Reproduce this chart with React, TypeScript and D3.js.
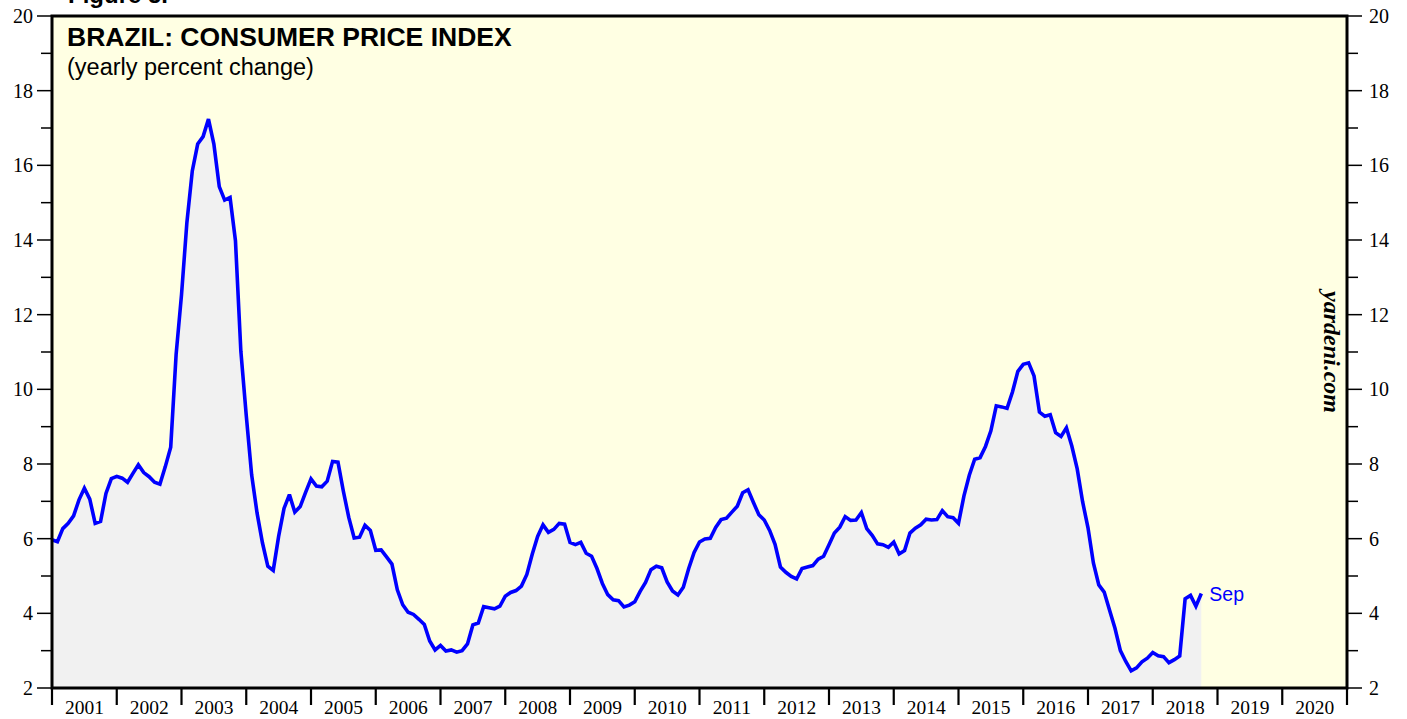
import React from "react";
import * as d3 from "d3";

// Brazil CPI, yearly percent change, monthly Dec 2000 .. Sep 2018
const startYear = 2000;
const startMonth = 11; // December (0-based)
const cpi: number[] = [
  5.97,
  // 2001
  5.92, 6.27, 6.41, 6.61, 7.04, 7.35, 7.06, 6.41, 6.46, 7.21, 7.61, 7.67,
  // 2002
  7.62, 7.51, 7.75, 7.98, 7.77, 7.66, 7.51, 7.46, 7.93, 8.45, 10.93, 12.53,
  // 2003
  14.47, 15.85, 16.57, 16.77, 17.24, 16.57, 15.43, 15.07, 15.14, 13.98, 11.02, 9.3,
  // 2004
  7.71, 6.69, 5.89, 5.26, 5.15, 6.06, 6.81, 7.18, 6.71, 6.86, 7.24, 7.6,
  // 2005
  7.41, 7.39, 7.54, 8.07, 8.05, 7.27, 6.57, 6.02, 6.04, 6.36, 6.22, 5.69,
  // 2006
  5.7, 5.51, 5.32, 4.63, 4.23, 4.03, 3.97, 3.84, 3.7, 3.26, 3.02, 3.14,
  // 2007
  2.99, 3.02, 2.96, 3.0, 3.18, 3.69, 3.74, 4.18, 4.15, 4.12, 4.19, 4.46,
  // 2008
  4.56, 4.61, 4.73, 5.04, 5.58, 6.06, 6.37, 6.17, 6.25, 6.41, 6.39, 5.9,
  // 2009
  5.84, 5.9, 5.61, 5.53, 5.2, 4.8, 4.5, 4.36, 4.34, 4.17, 4.22, 4.31,
  // 2010
  4.59, 4.83, 5.17, 5.26, 5.22, 4.84, 4.6, 4.49, 4.7, 5.2, 5.63, 5.91,
  // 2011
  5.99, 6.01, 6.3, 6.51, 6.55, 6.71, 6.87, 7.23, 7.31, 6.97, 6.64, 6.5,
  // 2012
  6.22, 5.85, 5.24, 5.1, 4.99, 4.92, 5.2, 5.24, 5.28, 5.45, 5.53, 5.84,
  // 2013
  6.15, 6.31, 6.59, 6.49, 6.5, 6.7, 6.27, 6.09, 5.86, 5.84, 5.77, 5.91,
  // 2014
  5.59, 5.68, 6.15, 6.28, 6.37, 6.52, 6.5, 6.51, 6.75, 6.59, 6.56, 6.41,
  // 2015
  7.14, 7.7, 8.13, 8.17, 8.47, 8.89, 9.56, 9.53, 9.49, 9.93, 10.48, 10.67,
  // 2016
  10.71, 10.36, 9.39, 9.28, 9.32, 8.84, 8.74, 8.97, 8.48, 7.87, 6.99, 6.29,
  // 2017
  5.35, 4.76, 4.57, 4.08, 3.6, 3.0, 2.71, 2.46, 2.54, 2.7, 2.8, 2.95,
  // 2018
  2.86, 2.84, 2.68, 2.76, 2.86, 4.39, 4.48, 4.19, 4.53,
];

const yearLabels = [
  "2001", "2002", "2003", "2004", "2005", "2006", "2007", "2008", "2009", "2010",
  "2011", "2012", "2013", "2014", "2015", "2016", "2017", "2018", "2019", "2020",
];
const yMajorTicks = [2, 4, 6, 8, 10, 12, 14, 16, 18, 20];
const yMinorTicks = [3, 5, 7, 9, 11, 13, 15, 17, 19];
const title = "BRAZIL: CONSUMER PRICE INDEX";
const subtitle = "(yearly percent change)";
const lastLabel = "Sep";

export default function App() {
  const W = 1407;
  const H = 719;
  const left = 52;
  const right = 1347;
  const top = 16;
  const bottom = 688;

  // time in fractional years; month-end positioning
  const x = d3.scaleLinear().domain([2001, 2021]).range([left, right]);
  const y = d3.scaleLinear().domain([2, 20]).range([bottom, top]);

  const pts = cpi.map((v, i) => {
    const m = startMonth + i + 1; // month-end
    return { t: startYear + m / 12, v };
  });

  const line = d3
    .line<{ t: number; v: number }>()
    .x((d) => x(d.t))
    .y((d) => y(d.v));
  const area = d3
    .area<{ t: number; v: number }>()
    .x((d) => x(d.t))
    .y0(y(2))
    .y1((d) => y(d.v));

  const last = pts[pts.length - 1];
  const serif = "'Liberation Serif', 'DejaVu Serif', serif";
  const sans = "'Liberation Sans', Arial, Helvetica, sans-serif";
  const yearTicks = d3.range(2001, 2022);

  return (
    <svg
      width={W}
      height={H}
      style={{ position: "absolute", left: 0, top: 0, background: "#fff" }}
    >
      <rect x={left} y={top} width={right - left} height={bottom - top} fill="#ffffe3" />
      <path d={area(pts) || ""} fill="#f1f1f1" />
      <path
        d={line(pts) || ""}
        fill="none"
        stroke="#0000ff"
        strokeWidth={3.6}
        strokeLinejoin="miter"
        strokeMiterlimit={3}
      />
      <text x={x(last.t) + 8} y={y(last.v) + 7} fontFamily={sans} fontSize={19.5} fill="#0000ff">
        {lastLabel}
      </text>

      {/* frame */}
      <rect
        x={left}
        y={top}
        width={right - left}
        height={bottom - top}
        fill="none"
        stroke="#000"
        strokeWidth={3}
      />

      {/* left & right y ticks */}
      {yMajorTicks.map((t) => (
        <g key={"M" + t}>
          <line x1={left - 15} x2={left} y1={y(t)} y2={y(t)} stroke="#000" strokeWidth={1.5} />
          <line x1={right} x2={right + 15} y1={y(t)} y2={y(t)} stroke="#000" strokeWidth={1.5} />
          <text x={left - 19} y={y(t) + 7} textAnchor="end" fontFamily={serif} fontSize={20} fill="#000">
            {t}
          </text>
          <text x={right + 22} y={y(t) + 7} textAnchor="start" fontFamily={serif} fontSize={20} fill="#000">
            {t}
          </text>
        </g>
      ))}
      {yMinorTicks.map((t) => (
        <g key={"m" + t}>
          <line x1={left - 11} x2={left} y1={y(t)} y2={y(t)} stroke="#000" strokeWidth={1.5} />
          <line x1={right} x2={right + 11} y1={y(t)} y2={y(t)} stroke="#000" strokeWidth={1.5} />
        </g>
      ))}

      {/* x ticks */}
      {yearTicks.map((yr) => (
        <line
          key={"x" + yr}
          x1={x(yr)}
          x2={x(yr)}
          y1={bottom}
          y2={bottom + 17}
          stroke="#000"
          strokeWidth={2.2}
        />
      ))}
      {yearLabels.map((lab, i) => (
        <text
          key={lab}
          x={x(2001 + i + 0.5)}
          y={714}
          textAnchor="middle"
          fontFamily={serif}
          fontSize={19.5}
          fill="#000"
        >
          {lab}
        </text>
      ))}

      {/* titles */}
      <text x={67} y={46} fontFamily={sans} fontWeight="bold" fontSize={26.5} fill="#000">
        {title}
      </text>
      <text x={67} y={75} fontFamily={sans} fontSize={23.5} fill="#000">
        {subtitle}
      </text>
      <text x={68} y={3} fontFamily={sans} fontWeight="bold" fontSize={24} fill="#000">
        Figure 5.
      </text>

      <text
        transform={`translate(1324, 352) rotate(90)`}
        textAnchor="middle"
        fontFamily={serif}
        fontStyle="italic"
        fontWeight="bold"
        fontSize={24}
        fill="#000"
      >
        yardeni.com
      </text>
    </svg>
  );
}
